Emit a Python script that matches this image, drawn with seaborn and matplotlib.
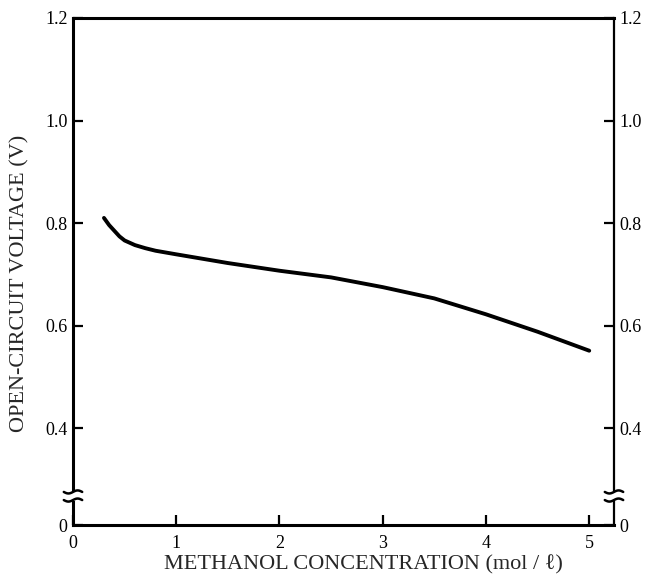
import numpy as np
import pandas as pd
import matplotlib
matplotlib.use("Agg")
import matplotlib.pyplot as plt
import seaborn as sns

conc = [0.3, 0.35, 0.4, 0.45, 0.5, 0.6, 0.7, 0.8, 1.0, 1.5, 2.0, 2.5, 3.0, 3.5, 4.0, 4.5, 5.0]
ocv = [0.810, 0.796, 0.785, 0.774, 0.766, 0.757, 0.751, 0.746, 0.739, 0.722, 0.707, 0.694,
       0.675, 0.653, 0.622, 0.588, 0.551]
xticks = [0, 1, 2, 3, 4, 5]
ytick_vals = [0.211, 0.4, 0.6, 0.8, 1.0, 1.2]
ytick_labels = ["0", "0.4", "0.6", "0.8", "1.0", "1.2"]

sns.set_style("ticks")
plt.rcParams['font.family'] = ['Liberation Serif', 'DejaVu Serif']

df = pd.DataFrame({"conc": conc, "ocv": ocv})
W, H = 648, 575
L, R, T, B = 73, 614, 18, 525
fig = plt.figure(figsize=(W/100, H/100), dpi=100)
ax = fig.add_axes([L/W, 1-B/H, (R-L)/W, (B-T)/H])
sns.lineplot(data=df, x="conc", y="ocv", ax=ax, color="black", linewidth=2.8)

ax.set_xlim(0, 5.24)
ax.set_ylim(0.211, 1.2)
ax.set_xticks(xticks)
ax.set_xticklabels([str(t) for t in xticks])
ax.set_yticks(ytick_vals)
ax.set_yticklabels(ytick_labels)
for name, s in ax.spines.items():
    s.set_linewidth(2.2 if name != "right" else 1.6)
    s.set_color("black")
ax.tick_params(axis="both", direction="in", length=7, width=1.6, labelsize=13, colors="black")
ax.tick_params(axis="x", pad=7)
ax.tick_params(axis="y", pad=4, right=True, labelright=True)

ax.set_xlabel("METHANOL CONCENTRATION (mol / ℓ)", fontsize=16)
ax.xaxis.set_label_coords((363-L)/(R-L), (B-555)/(B-T))
ax.set_ylabel("OPEN-CIRCUIT VOLTAGE (V)", fontsize=16)
ax.yaxis.label.set_va("center")
ax.yaxis.set_label_coords((20-L)/(R-L), (B-283)/(B-T))

# axis break marks
yb = (B-496)/(B-T)
for xa in (0.0, 1.0):
    ax.add_patch(plt.Rectangle((xa-0.012, yb-0.009), 0.024, 0.018, transform=ax.transAxes,
                               facecolor="white", edgecolor="none", clip_on=False, zorder=5))
    for dy in (0.008, -0.008):
        t = np.linspace(-0.017, 0.017, 30)
        ax.plot(xa + t, yb + dy + 0.003*np.sin(t/0.017*np.pi), transform=ax.transAxes,
                color="black", lw=1.8, clip_on=False, zorder=6)

fig.savefig("out.png", dpi=100)
